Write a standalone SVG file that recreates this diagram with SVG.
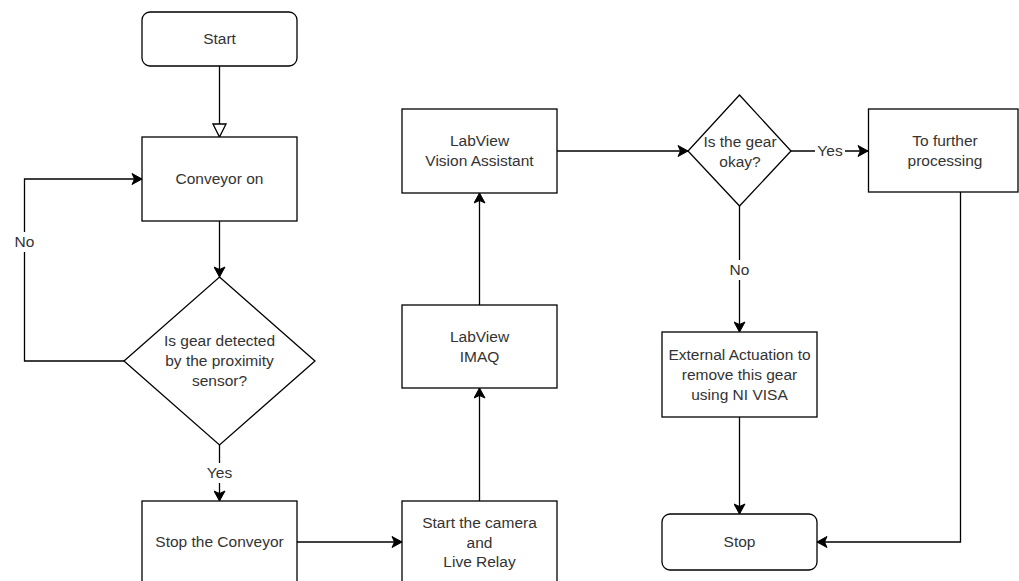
<svg xmlns="http://www.w3.org/2000/svg" width="1019" height="581" viewBox="0 0 1019 581">
  <defs>
    <style>
      .box { fill: #ffffff; stroke: #000000; stroke-width: 1.3; }
      .edge { fill: none; stroke: #000000; stroke-width: 1.3; }
      .lbl { font-family: "Liberation Sans", Arial, sans-serif; font-size: 15.5px; fill: #333333; text-anchor: middle; }
      .lblbg { fill: #ffffff; }
    </style>
    <marker id="arrow" markerUnits="userSpaceOnUse" markerWidth="12" markerHeight="12" viewBox="0 0 12 12" refX="11" refY="6" orient="auto">
      <path d="M1,0.5 L11,6 L1,11.5 L3.5,6 Z" fill="#000000" stroke="#000000" stroke-width="1"/>
    </marker>
    <marker id="hollow" markerUnits="userSpaceOnUse" markerWidth="16" markerHeight="16" viewBox="0 0 16 16" refX="14.5" refY="8" orient="auto">
      <path d="M1.5,1.5 L14.5,8 L1.5,14.5 Z" fill="#ffffff" stroke="#000000" stroke-width="1.3"/>
    </marker>
  </defs>

  <rect width="1019" height="581" fill="#ffffff"/>

  <!-- connectors -->
  <g id="connectors">
    <path class="edge" d="M219.5,66 L219.5,137" marker-end="url(#hollow)"/>
    <path class="edge" d="M219.5,221 L219.5,277" marker-end="url(#arrow)"/>
    <path class="edge" d="M124,361 L24.5,361 L24.5,179 L142,179" marker-end="url(#arrow)"/>
    <path class="edge" d="M219.5,445 L219.5,501" marker-end="url(#arrow)"/>
    <path class="edge" d="M297,542 L402,542" marker-end="url(#arrow)"/>
    <path class="edge" d="M479.5,501 L479.5,388" marker-end="url(#arrow)"/>
    <path class="edge" d="M479.5,305 L479.5,193" marker-end="url(#arrow)"/>
    <path class="edge" d="M557,151 L688,151" marker-end="url(#arrow)"/>
    <path class="edge" d="M791,151 L868,151" marker-end="url(#arrow)"/>
    <path class="edge" d="M739.5,206 L739.5,332" marker-end="url(#arrow)"/>
    <path class="edge" d="M739.5,417 L739.5,514" marker-end="url(#arrow)"/>
    <path class="edge" d="M960.5,192 L960.5,542 L817,542" marker-end="url(#arrow)"/>

    <!-- edge labels -->
    <rect class="lblbg" x="10" y="232" width="29" height="20"/>
    <text class="lbl" x="24.5" y="247">No</text>
    <rect class="lblbg" x="205" y="463" width="30" height="20"/>
    <text class="lbl" x="219.5" y="478">Yes</text>
    <rect class="lblbg" x="815" y="142" width="30" height="18"/>
    <text class="lbl" x="830" y="156">Yes</text>
    <rect class="lblbg" x="726" y="260" width="27" height="20"/>
    <text class="lbl" x="739.5" y="275">No</text>
  </g>

  <g id="start">
    <rect class="box" x="142" y="12" width="155" height="54" rx="8" ry="8"/>
    <text class="lbl" x="219.5" y="44">Start</text>
  </g>

  <g id="conveyor-on">
    <rect class="box" x="142" y="137" width="155" height="84"/>
    <text class="lbl" x="219.5" y="184">Conveyor on</text>
  </g>

  <g id="gear-detected">
    <polygon class="box" points="219.5,277 315,361 219.5,445 124,361"/>
    <text class="lbl" x="219.5" y="346">Is gear detected</text>
    <text class="lbl" x="219.5" y="366">by the proximity</text>
    <text class="lbl" x="219.5" y="386">sensor?</text>
  </g>

  <g id="stop-conveyor">
    <rect class="box" x="142" y="501" width="155" height="90"/>
    <text class="lbl" x="219.5" y="547">Stop the Conveyor</text>
  </g>

  <g id="start-camera">
    <rect class="box" x="402" y="501" width="155" height="90"/>
    <text class="lbl" x="479.5" y="528">Start the camera</text>
    <text class="lbl" x="479.5" y="547.5">and</text>
    <text class="lbl" x="479.5" y="567">Live Relay</text>
  </g>

  <g id="labview-imaq">
    <rect class="box" x="402" y="305" width="155" height="83"/>
    <text class="lbl" x="479.5" y="342">LabView</text>
    <text class="lbl" x="479.5" y="362">IMAQ</text>
  </g>

  <g id="vision-assistant">
    <rect class="box" x="402" y="109" width="155" height="84"/>
    <text class="lbl" x="479.5" y="146">LabView</text>
    <text class="lbl" x="479.5" y="166">Vision Assistant</text>
  </g>

  <g id="gear-okay">
    <polygon class="box" points="739.5,95 791,151 739.5,206 688,151"/>
    <text class="lbl" x="740" y="147">Is the gear</text>
    <text class="lbl" x="740" y="167">okay?</text>
  </g>

  <g id="further-processing">
    <rect class="box" x="868.5" y="109" width="149.5" height="83"/>
    <text class="lbl" x="945" y="146">To further</text>
    <text class="lbl" x="945" y="166">processing</text>
  </g>

  <g id="external-actuation">
    <rect class="box" x="662" y="332" width="155" height="85"/>
    <text class="lbl" x="739.5" y="360">External Actuation to</text>
    <text class="lbl" x="739.5" y="380">remove this gear</text>
    <text class="lbl" x="739.5" y="400">using NI VISA</text>
  </g>

  <g id="stop">
    <rect class="box" x="662" y="514" width="155" height="56" rx="8" ry="8"/>
    <text class="lbl" x="739.5" y="547">Stop</text>
  </g>
</svg>
